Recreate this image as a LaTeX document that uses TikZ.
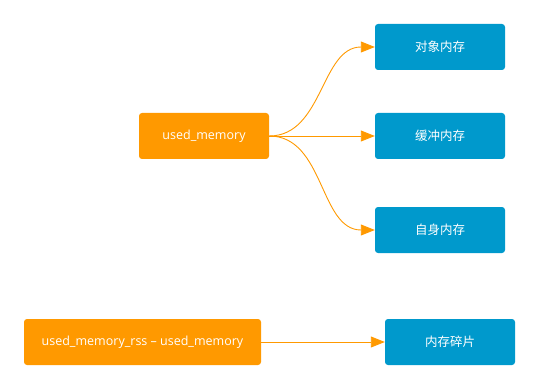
\documentclass[tikz,border=0pt]{standalone}
\usepackage{fontspec}
\setmainfont{Open Sans}
\newfontfamily\cjk{Noto Sans CJK SC}
\usetikzlibrary{arrows.meta}
\definecolor{memorange}{RGB}{255, 153, 0}
\definecolor{memblue}{RGB}{0, 153, 204}

\begin{document}
\begin{tikzpicture}[x=1pt,y=-1pt,
    srcbox/.style={rectangle, rounded corners=3pt, fill=memorange, text=white, minimum height=46pt, inner sep=0pt, font=\fontsize{12.5}{14}\selectfont},
    partbox/.style={rectangle, rounded corners=3pt, fill=memblue, text=white, minimum width=130pt, minimum height=46pt, inner sep=0pt, font=\cjk\fontsize{12.5}{14}\selectfont},
    link/.style={memorange, line width=0.9pt, -{Triangle[length=14pt,width=11pt]}}]
    \useasboundingbox (0,0) rectangle (540,390);
    \node[srcbox, minimum width=130pt] (used) at (204,136) {used\_memory};
    \node[partbox] (obj) at (440,47) {对象内存};
    \node[partbox] (buf) at (440,136) {缓冲内存};
    \node[partbox] (self) at (440,230) {自身内存};
    \node[srcbox, minimum width=237pt] (rss) at (142.5,342) {used\_memory\_rss -- used\_memory};
    \node[partbox] (frag) at (450,342) {内存碎片};
    \draw[link] (used.east) to[out=0, in=180] (obj.west);
    \draw[link] (used.east) -- (buf.west);
    \draw[link] (used.east) to[out=0, in=180] (self.west);
    \draw[link] (rss.east) -- (frag.west);
\end{tikzpicture}
\end{document}
